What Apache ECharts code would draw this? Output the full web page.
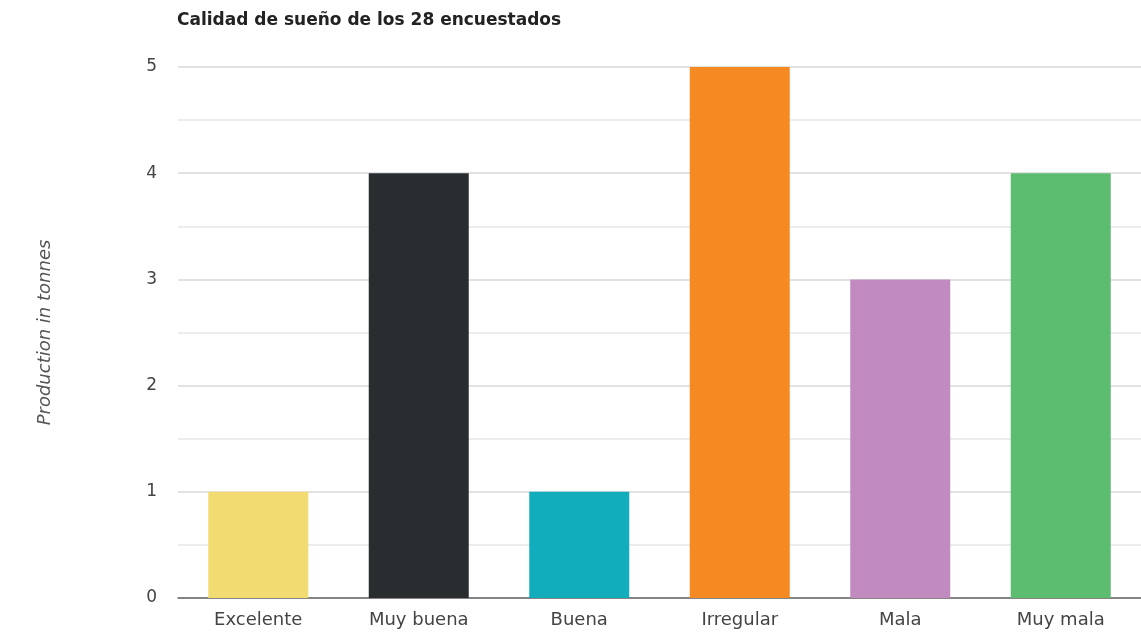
<!DOCTYPE html>
<html>
<head>
<meta charset="utf-8">
<style>
  html, body { margin: 0; padding: 0; background: #fff; }
  #container { width: 1141px; height: 633px; }
</style>
<script src="https://cdn.jsdelivr.net/npm/echarts@6/dist/echarts.min.js"></script>
</head>
<body>
<div id="container"></div>
<script>
var categories = ['Excelente', 'Muy buena', 'Buena', 'Irregular', 'Mala', 'Muy mala'];
var counts = [1, 4, 1, 5, 3, 4];
var barColors = ['#f2dc72', '#2a2d30', '#12adbd', '#f58a23', '#c18bbf', '#5cbd70'];

var dom = document.getElementById('container');
var myChart = echarts.init(dom);

var option = {
    animation: false,
    textStyle: { fontFamily: 'DejaVu Sans, sans-serif' },
    title: {
        text: 'Calidad de sueño de los 28 encuestados',
        left: 172,
        top: 7,
        textStyle: { fontSize: 17, fontWeight: 'bold', color: '#222' }
    },
    grid: {
        left: 178,
        right: -2,
        top: 67,
        bottom: 35
    },
    xAxis: {
        type: 'category',
        data: categories,
        axisTick: { show: false },
        axisLine: { lineStyle: { color: '#666', width: 1.5 } },
        axisLabel: { fontSize: 18, color: '#444', margin: 13 }
    },
    yAxis: {
        type: 'value',
        min: 0,
        max: 5,
        interval: 1,
        name: 'Production in tonnes',
        nameLocation: 'middle',
        nameGap: 124,
        nameTextStyle: { fontSize: 18, fontStyle: 'italic', color: '#555' },
        axisLabel: { fontSize: 17, color: '#444', margin: 21 },
        splitLine: { lineStyle: { color: '#d8d8d8', width: 1.5 } },
        minorTick: { show: false, splitNumber: 2 },
        minorSplitLine: { show: true, lineStyle: { color: '#e6e6e6', width: 1.5 } }
    },
    series: [
        {
            type: 'bar',
            barWidth: 100,
            data: counts.map(function (v, i) {
                return { value: v, itemStyle: { color: barColors[i] } };
            })
        }
    ]
};

myChart.setOption(option, true);
</script>
</body>
</html>
